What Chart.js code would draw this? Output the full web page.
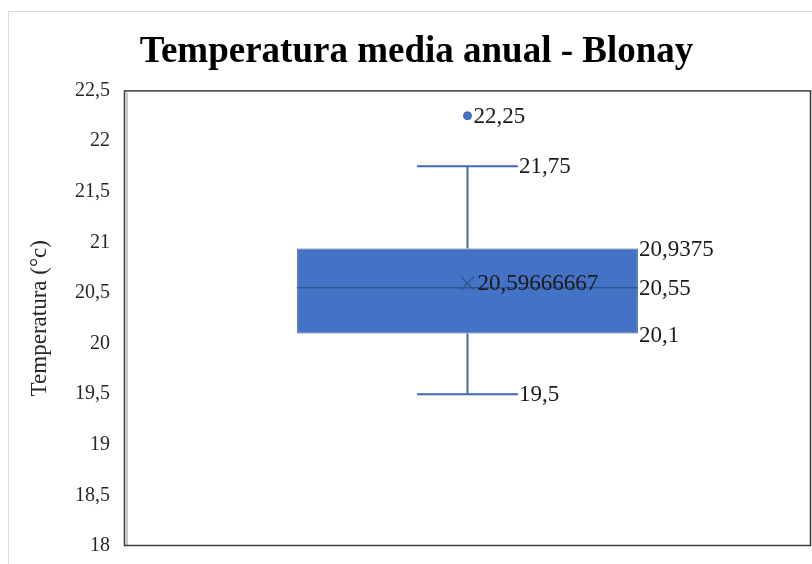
<!DOCTYPE html>
<html>
<head>
<meta charset="utf-8">
<script src="https://cdn.jsdelivr.net/npm/chart.js@4.4.1/dist/chart.umd.min.js"></script>
<style>
  html, body { margin: 0; padding: 0; background: #fff; }
  #wrap { width: 812px; height: 564px; position: relative; }
</style>
</head>
<body>
<div id="wrap"><canvas id="boxChart"></canvas></div>
<script>
// five-number summary of the yearly mean temperature
const categories = [''];
const lowerWhisker = [19.5];
const firstQuartile = [20.1];
const medianValues = [20.55];
const thirdQuartile = [20.9375];
const upperWhisker = [21.75];
const meanValues = [20.59666667];
const outlierValues = [22.25];

const yMin = 18;
const yMax = 22.5;
const yStep = 0.5;

const serif = "'Liberation Serif', 'Times New Roman', serif";
const boxBlue = '#4472C4';
const lineBlue = '#3F69B4';
const darkBlue = '#2F5597';

const fmt = v => String(v).replace('.', ',');

// whiskers, caps and the median line, from the box bar geometry
const boxParts = {
  id: 'boxParts',
  afterDatasetsDraw(chart) {
    const { ctx } = chart;
    const y = chart.scales.y;
    const bars = chart.getDatasetMeta(0).data;
    bars.forEach((bar, i) => {
      const half = bar.width / 2;
      const cap = bar.width * 0.148;
      const x = bar.x;
      ctx.save();
      ctx.strokeStyle = lineBlue;
      ctx.lineWidth = 2;
      ctx.beginPath();
      ctx.moveTo(x, y.getPixelForValue(thirdQuartile[i]));
      ctx.lineTo(x, y.getPixelForValue(upperWhisker[i]));
      ctx.moveTo(x - cap, y.getPixelForValue(upperWhisker[i]));
      ctx.lineTo(x + cap, y.getPixelForValue(upperWhisker[i]));
      ctx.moveTo(x, y.getPixelForValue(firstQuartile[i]));
      ctx.lineTo(x, y.getPixelForValue(lowerWhisker[i]));
      ctx.moveTo(x - cap, y.getPixelForValue(lowerWhisker[i]));
      ctx.lineTo(x + cap, y.getPixelForValue(lowerWhisker[i]));
      ctx.stroke();
      ctx.strokeStyle = darkBlue;
      ctx.lineWidth = 1.5;
      ctx.beginPath();
      ctx.moveTo(x - half, y.getPixelForValue(medianValues[i]));
      ctx.lineTo(x + half, y.getPixelForValue(medianValues[i]));
      ctx.stroke();

      // value labels
      ctx.fillStyle = '#1a1a1a';
      ctx.font = '23px ' + serif;
      ctx.textAlign = 'left';
      ctx.textBaseline = 'middle';
      ctx.fillText(fmt(upperWhisker[i]), x + cap + 1, y.getPixelForValue(upperWhisker[i]) + 1);
      ctx.fillText(fmt(lowerWhisker[i]), x + cap + 1, y.getPixelForValue(lowerWhisker[i]) + 1);
      ctx.fillText(fmt(thirdQuartile[i]), x + half + 1, y.getPixelForValue(thirdQuartile[i]) + 1);
      ctx.fillText(fmt(medianValues[i]), x + half + 1, y.getPixelForValue(medianValues[i]) + 1);
      ctx.fillText(fmt(firstQuartile[i]), x + half + 1, y.getPixelForValue(firstQuartile[i]) + 3);
      ctx.fillText(fmt(meanValues[i]), x + 10, y.getPixelForValue(meanValues[i]) + 1);
      ctx.fillText(fmt(outlierValues[i]), x + 6, y.getPixelForValue(outlierValues[i]) + 1);
      ctx.restore();
    });
  }
};

// outer chart frame and plot border
const frame = {
  id: 'frame',
  beforeDraw(chart) {
    const { ctx, width, height } = chart;
    ctx.save();
    ctx.fillStyle = '#fff';
    ctx.fillRect(0, 0, width, height);
    ctx.strokeStyle = '#D9D9D9';
    ctx.lineWidth = 1;
    ctx.beginPath();
    ctx.moveTo(8.5, height);
    ctx.lineTo(8.5, 11.5);
    ctx.lineTo(width, 11.5);
    ctx.stroke();
    ctx.restore();
  },
  afterDraw(chart) {
    const { ctx, chartArea: a } = chart;
    ctx.save();
    ctx.strokeStyle = '#C8C8C8';
    ctx.lineWidth = 2;
    ctx.beginPath();
    ctx.moveTo(a.left + 3, a.top + 2);
    ctx.lineTo(a.left + 3, a.bottom - 1);
    ctx.stroke();
    ctx.strokeStyle = '#3A3A3A';
    ctx.lineWidth = 1.5;
    ctx.strokeRect(a.left + 0.5, a.top + 0.5, a.right - a.left - 1, a.bottom - a.top - 1);
    ctx.restore();
  }
};

new Chart(document.getElementById('boxChart'), {
  data: {
    labels: categories,
    datasets: [
      {
        type: 'bar',
        order: 3,
        data: categories.map((c, i) => [firstQuartile[i], thirdQuartile[i]]),
        backgroundColor: boxBlue,
        borderColor: darkBlue,
        borderWidth: 1,
        borderSkipped: false,
        barPercentage: 0.496,
        categoryPercentage: 1
      },
      {
        type: 'line',
        order: 1,
        data: meanValues,
        showLine: false,
        pointStyle: 'crossRot',
        pointRadius: 9,
        borderColor: darkBlue,
        borderWidth: 1.2
      },
      {
        type: 'line',
        order: 1,
        data: outlierValues,
        showLine: false,
        pointRadius: 4,
        pointBackgroundColor: boxBlue,
        pointBorderColor: lineBlue,
        pointBorderWidth: 1
      }
    ]
  },
  options: {
    responsive: true,
    maintainAspectRatio: false,
    animation: false,
    layout: { autoPadding: false, padding: { left: 22, right: 1, top: 0, bottom: 18 } },
    plugins: {
      legend: { display: false },
      tooltip: { enabled: false },
      title: {
        display: true,
        text: 'Temperatura media anual - Blonay',
        color: '#000',
        font: { family: serif, size: 37, weight: 'bold' },
        padding: { top: 30, bottom: 16 }
      }
    },
    scales: {
      x: { display: false, offset: true },
      y: {
        min: yMin,
        max: yMax,
        afterFit(scale) {
          scale.width = 102;
          scale.paddingTop = 0;
          scale.paddingBottom = 0;
        },
        grid: { display: false, drawTicks: false },
        border: { display: false },
        title: {
          display: true,
          text: 'Temperatura (°c)',
          color: '#262626',
          font: { family: serif, size: 23 },
          padding: { top: 4, bottom: 0 }
        },
        ticks: {
          stepSize: yStep,
          padding: 14,
          color: '#262626',
          font: { family: serif, size: 20 },
          callback: v => fmt(v)
        }
      }
    }
  },
  plugins: [frame, boxParts]
});
</script>
</body>
</html>
